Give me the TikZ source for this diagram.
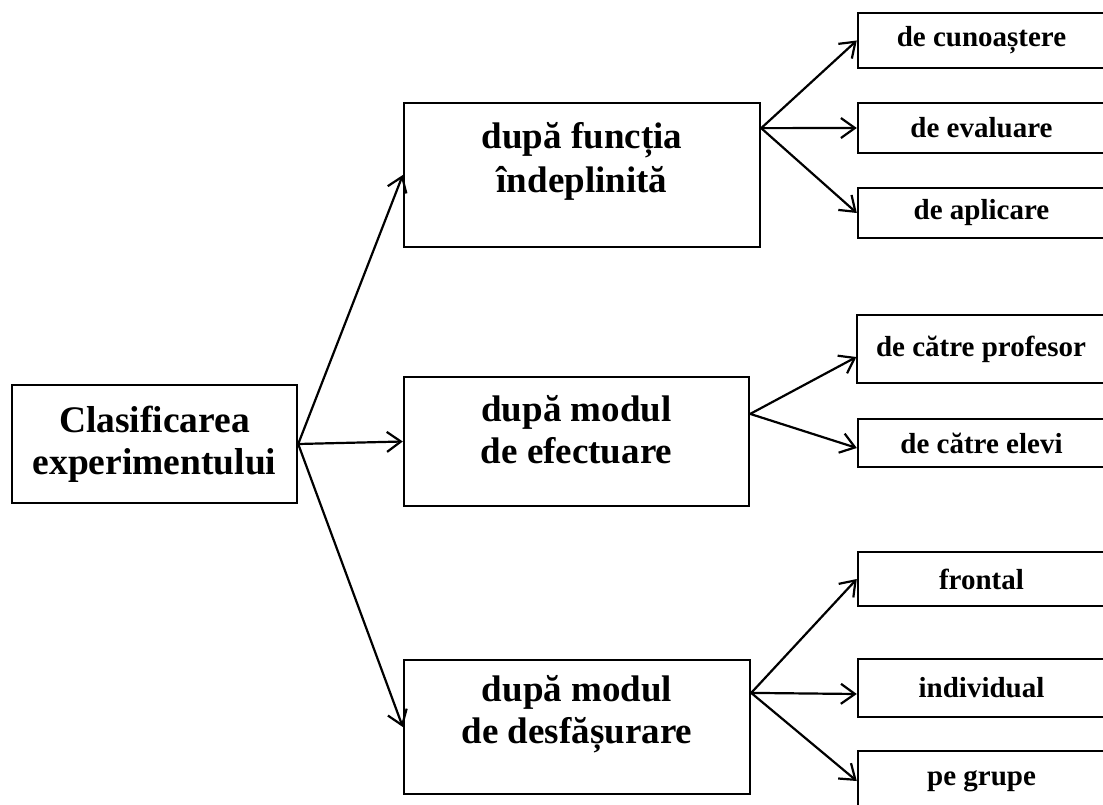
\documentclass[tikz,border=0pt]{standalone}
\usepackage{fontspec}
\setmainfont{Liberation Serif}
\usetikzlibrary{arrows.meta,calc}
\begin{document}
\begin{tikzpicture}[x=1pt,y=-1pt,
  box/.style={draw, line width=2.4pt, rectangle, inner sep=0pt},
  thinbox/.style={draw, line width=1.3pt, rectangle, inner sep=0pt},
  big/.style={font=\fontsize{37.5}{42}\selectfont\bfseries, align=center},
  mid/.style={font=\fontsize{37}{42}\selectfont\bfseries, align=center},
  small/.style={font=\fontsize{29}{32}\selectfont\bfseries},
  arr/.style={line width=2.2pt, -{Straight Barb[length=14pt,width=20pt,line width=2.2pt]}},
]
\clip (0,0) rectangle (1103,805);
\fill[white] (0,0) rectangle (1103,805);

% root
\node[box, big, minimum width=285, minimum height=118] (root) at (154.5,444) {Clasificarea\\experimentului};

% middle boxes
\node[box, minimum width=356, minimum height=144] (m1) at (582,175) {};
\node[mid] (m1t) at ($(m1.center)+(0,-14)$) {după funcția\\[2pt]îndeplinită};
\node[box, minimum width=345, minimum height=129] (m2) at (576.5,441.5) {};
\node[mid] (m2t) at ($(m2.center)+(0,-12)$) {după modul\\de efectuare};
\node[box, minimum width=346, minimum height=134] (m3) at (577,727) {};
\node[mid] (m3t) at ($(m3.center)+(0,-13)$) {după modul\\de desfășurare};

% right boxes
\node[box, small, minimum width=247, minimum height=55] (r1) at (981.5,40.5) {de cunoaștere};
\node[box, small, minimum width=247, minimum height=50] (r2) at (981.5,128) {de evaluare};
\node[box, small, minimum width=247, minimum height=50] (r3) at (981.5,213) {de aplicare};
\node[thinbox, small, minimum width=248, minimum height=68] (r4) at (981,349) {de către profesor};
\node[box, small, minimum width=247, minimum height=48] (r5) at (981.5,443) {de către elevi};
\node[box, small, minimum width=247, minimum height=54] (r6) at (981.5,579) {frontal};
\node[box, small, minimum width=247, minimum height=58] (r7) at (981.5,688) {individual};
\node[box, small, minimum width=247, minimum height=60] (r8) at (981.5,781) {pe grupe};

% arrow origins
\coordinate (o1) at ($(m1.north east)!0.18!(m1.south east)$);
\coordinate (o2) at ($(m2.north east)!0.29!(m2.south east)$);
\coordinate (o3) at ($(m3.north east)!0.25!(m3.south east)$);

% connectors
\draw[arr] (root.east) -- (m1.west);
\draw[arr] (root.east) -- (m2.west);
\draw[arr] (root.east) -- (m3.west);

\draw[arr] (o1) -- (r1.west);
\draw[arr] (o1) -- (r2.west);
\draw[arr] (o1) -- (r3.west);

\draw[arr] (o2) -- ($(r4.west)+(0,8)$);
\draw[arr] (o2) -- ($(r5.west)+(0,5)$);

\draw[arr] (o3) -- (r6.west);
\draw[arr] (o3) -- ($(r7.west)+(0,6)$);
\draw[arr] (o3) -- (r8.west);
\end{tikzpicture}
\end{document}
